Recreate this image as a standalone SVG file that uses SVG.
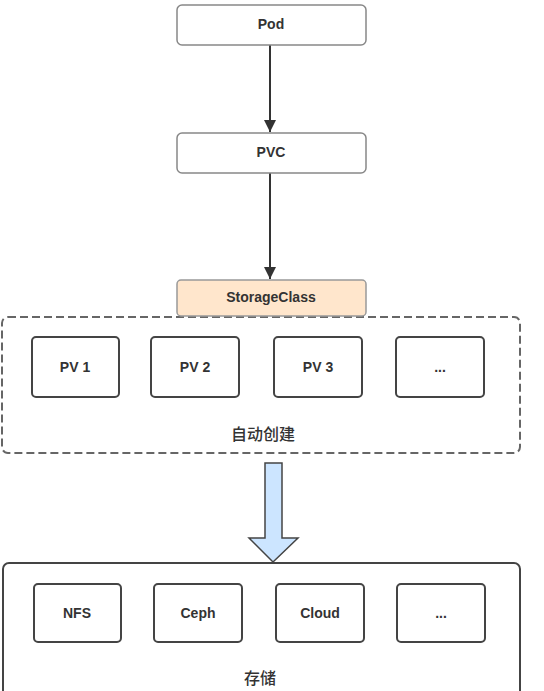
<svg xmlns="http://www.w3.org/2000/svg" width="544" height="691" viewBox="0 0 544 691">
<style>
.t{font-family:"Liberation Sans","Noto Sans CJK SC",sans-serif;font-size:14px;font-weight:bold;fill:#333;text-anchor:middle;dominant-baseline:central}
.top{fill:#fff;stroke:#888;stroke-width:1.5}
.box{fill:#fff;stroke:#444;stroke-width:2}
.ln{stroke:#333;stroke-width:2;fill:none}
.cap{font-family:"Noto Sans CJK SC",sans-serif;font-size:16px;font-weight:500;fill:#333;text-anchor:middle;dominant-baseline:central}
</style>
<defs>
<marker id="ah" markerWidth="12" markerHeight="14" refX="12" refY="6" orient="auto" markerUnits="userSpaceOnUse">
<path d="M0,0 L12,6 L0,12 Z" fill="#333"/>
</marker>
</defs>
<rect width="544" height="691" fill="#fff"/>
<g id="connectors">
<line class="ln" x1="270" y1="45" x2="270" y2="132" marker-end="url(#ah)"/>
<line class="ln" x1="270" y1="173" x2="270" y2="279" marker-end="url(#ah)"/>
<path d="M265,463 L282,463 L282,538 L298,538 L273,562 L249,538 L265,538 Z" fill="#cce5ff" stroke="#444" stroke-width="1.5"/>
</g>
<g id="autocreate">
<rect x="2" y="317" width="518" height="136" rx="6" fill="none" stroke="#666" stroke-width="2" stroke-dasharray="8 4"/>
<text class="cap" x="263" y="433">自动创建</text>
</g>
<g id="storage">
<rect x="3" y="563" width="517" height="140" rx="6" fill="none" stroke="#444" stroke-width="2"/>
<text class="cap" x="260" y="677">存储</text>
</g>
<g id="pod"><rect class="top" x="177" y="5" width="189" height="40" rx="5"/><text class="t" x="271" y="24">Pod</text></g>
<g id="pvc"><rect class="top" x="177" y="133" width="189" height="40" rx="5"/><text class="t" x="271" y="152">PVC</text></g>
<g id="storageclass"><rect x="177" y="280" width="189" height="36" rx="4" fill="#ffe6cc" stroke="#999" stroke-width="1.5"/><text class="t" x="271" y="297">StorageClass</text></g>
<g id="pv1"><rect class="box" x="32" y="337" width="87" height="60" rx="4"/><text class="t" x="75" y="367">PV 1</text></g>
<g id="pv2"><rect class="box" x="151" y="337" width="88" height="60" rx="4"/><text class="t" x="195" y="367">PV 2</text></g>
<g id="pv3"><rect class="box" x="274" y="337" width="88" height="60" rx="4"/><text class="t" x="318" y="367">PV 3</text></g>
<g id="pvmore"><rect class="box" x="396" y="337" width="88" height="60" rx="4"/><text class="t" x="440" y="367">...</text></g>
<g id="nfs"><rect class="box" x="34" y="584" width="87" height="58" rx="4" fill="#ffffcc"/><text class="t" x="77" y="613">NFS</text></g>
<g id="ceph"><rect class="box" x="154" y="584" width="88" height="58" rx="4" fill="#e6ffcc"/><text class="t" x="198" y="613">Ceph</text></g>
<g id="cloud"><rect class="box" x="276" y="584" width="88" height="58" rx="4" fill="#ccffe6"/><text class="t" x="320" y="613">Cloud</text></g>
<g id="stmore"><rect class="box" x="397" y="584" width="88" height="58" rx="4"/><text class="t" x="441" y="613">...</text></g>
</svg>
